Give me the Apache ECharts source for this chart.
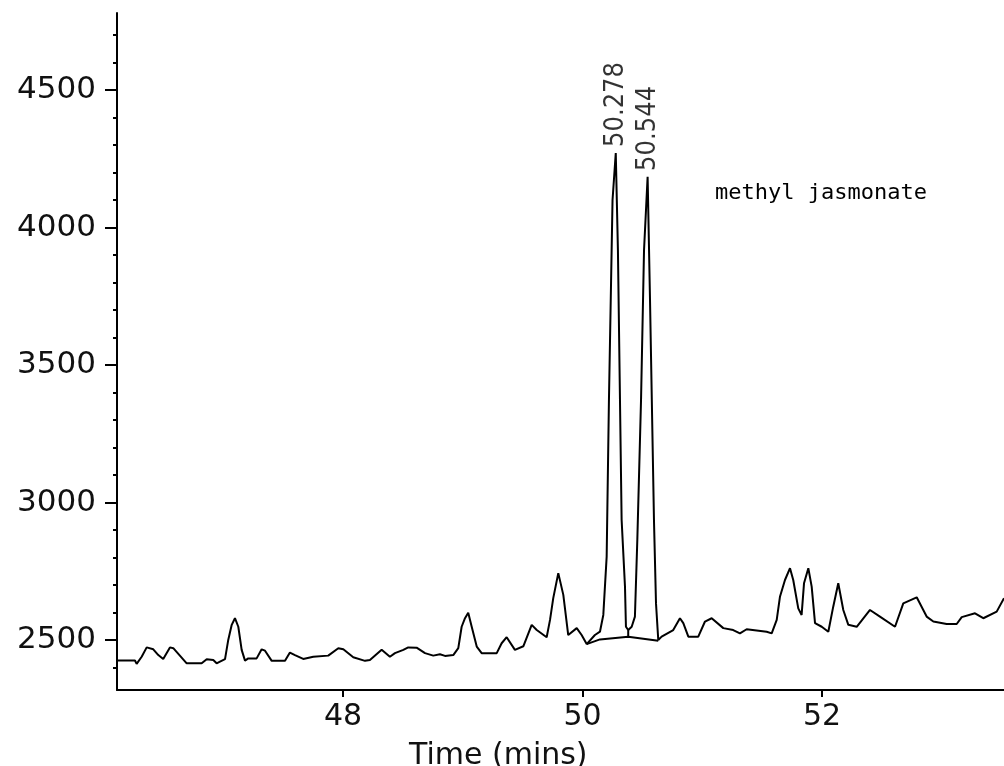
<!DOCTYPE html>
<html lang="en">

<head>
    <meta charset="utf-8">
    <title>Chromatogram - methyl jasmonate</title>

    <style>
        * {
            margin: 0;
            padding: 0;
        }

        #chart-container {
            width: 1004px;
            height: 766px;
            overflow: hidden;
            background: #fff;
        }
    </style>

</head>

<body>
    <div id="chart-container"></div>
    <script src="https://cdn.jsdelivr.net/npm/echarts@6/dist/echarts.min.js"></script>
    <script>
        // retention time (mins) and detector signal
        var timeMin = [46.113, 46.263, 46.277, 46.319, 46.361, 46.416, 46.458, 46.499, 46.555, 46.583,
            46.695, 46.820, 46.862, 46.917, 46.945, 46.973, 47.015, 47.042, 47.071, 47.098,
            47.126, 47.154, 47.182, 47.209, 47.279, 47.321, 47.349, 47.405, 47.516, 47.557,
            47.599, 47.668, 47.752, 47.877, 47.961, 48.003, 48.086, 48.184, 48.225, 48.323,
            48.392, 48.434, 48.504, 48.545, 48.615, 48.685, 48.754, 48.810, 48.852, 48.921,
            48.963, 48.991, 49.019, 49.046, 49.075, 49.117, 49.158, 49.284, 49.325, 49.367,
            49.436, 49.506, 49.576, 49.618, 49.701, 49.729, 49.756, 49.798, 49.840, 49.881,
            49.952, 49.993, 50.035, 50.104, 50.146, 50.174, 50.202, 50.221, 50.251, 50.278,
            50.296, 50.327, 50.355, 50.363, 50.382, 50.411, 50.438, 50.458, 50.489, 50.514,
            50.544, 50.564, 50.597, 50.614, 50.633, 50.661, 50.758, 50.814, 50.842, 50.884,
            50.967, 51.023, 51.079, 51.176, 51.259, 51.315, 51.371, 51.538, 51.580, 51.622,
            51.649, 51.691, 51.733, 51.760, 51.802, 51.830, 51.850, 51.886, 51.914, 51.942,
            51.998, 52.053, 52.094, 52.136, 52.178, 52.220, 52.290, 52.401, 52.484, 52.610,
            52.679, 52.791, 52.874, 52.930, 53.041, 53.125, 53.167, 53.278, 53.347, 53.459,
            53.520];
        var signal = [2425, 2425, 2413, 2439, 2473, 2466, 2445, 2431, 2473, 2470,
            2415, 2415, 2430, 2427, 2415, 2421, 2430, 2500, 2555, 2579,
            2548, 2464, 2425, 2433, 2433, 2466, 2461, 2424, 2424, 2454,
            2445, 2431, 2439, 2443, 2470, 2466, 2437, 2424, 2427, 2464,
            2439, 2452, 2464, 2473, 2472, 2452, 2443, 2448, 2442, 2445,
            2470, 2548, 2579, 2599, 2548, 2476, 2452, 2452, 2488, 2510,
            2464, 2477, 2555, 2536, 2510, 2573, 2652, 2743, 2664, 2518,
            2543, 2518, 2485, 2518, 2530, 2591, 2803, 3373, 4100, 4271,
            3918, 2936, 2694, 2548, 2536, 2548, 2585, 2864, 3373, 3918,
            4184, 3736, 2936, 2633, 2500, 2512, 2536, 2579, 2561, 2512,
            2512, 2567, 2579, 2543, 2536, 2524, 2539, 2530, 2524, 2573,
            2657, 2718, 2761, 2718, 2615, 2591, 2706, 2761, 2694, 2561,
            2548, 2530, 2621, 2706, 2609, 2555, 2548, 2609, 2585, 2548,
            2633, 2655, 2585, 2567, 2558, 2558, 2583, 2597, 2579, 2603,
            2652];

        // integrated peaks
        var peakTime = [50.278, 50.544];
        var peakSignal = [4271, 4184];

        // integration baseline under the two peaks, and the drop line between them
        var baseTime = [50.035, 50.146, 50.382, 50.633];
        var baseSignal = [2485, 2502, 2512, 2497];
        var dropTime = [50.382, 50.382];
        var dropSignal = [2512, 2536];

        // axis ticks
        var xTicks = [48, 50, 52];
        var yMajorTicks = [2500, 3000, 3500, 4000, 4500];
        var yMinorTicks = [2400, 2600, 2700, 2800, 2900, 3100, 3200, 3300, 3400,
            3600, 3700, 3800, 3900, 4100, 4200, 4300, 4400, 4600, 4700];

        var compoundName = 'methyl jasmonate';

        function zip(xs, ys) {
            return xs.map(function (x, i) { return [x, ys[i]]; });
        }

        var dom = document.getElementById('chart-container');
        var myChart = echarts.init(dom, null, {
            renderer: 'canvas',
            useDirtyRect: false
        });
        var option;

        var labelFont = 'DejaVu Sans';

        option = {
            animation: false,
            backgroundColor: '#fff',
            title: [
                {
                    text: 'Time (mins)',
                    left: 404,
                    top: 736,
                    textStyle: {
                        fontFamily: labelFont,
                        fontSize: 30,
                        fontWeight: 'normal',
                        color: '#111'
                    }
                },
                {
                    text: compoundName,
                    left: 710,
                    top: 177,
                    textStyle: {
                        fontFamily: 'DejaVu Sans Mono',
                        fontSize: 22,
                        fontWeight: 'normal',
                        color: '#000'
                    }
                }
            ],
            grid: {
                left: 117,
                right: 0,
                top: 13,
                bottom: 76,
                containLabel: false
            },
            xAxis: {
                type: 'value',
                min: 46.113,
                max: 53.52,
                axisLine: { lineStyle: { color: '#000', width: 2 } },
                axisTick: {
                    customValues: xTicks,
                    length: 7,
                    lineStyle: { color: '#000', width: 2 }
                },
                axisLabel: {
                    customValues: xTicks,
                    margin: 12,
                    fontFamily: labelFont,
                    fontSize: 30,
                    color: '#111',
                    formatter: function (v) { return String(v); }
                },
                splitLine: { show: false }
            },
            yAxis: [
                {
                    type: 'value',
                    position: 'left',
                    min: 2318,
                    max: 4780,
                    axisLine: { show: true, lineStyle: { color: '#000', width: 2 } },
                    axisTick: {
                        show: true,
                        customValues: yMajorTicks,
                        length: 12,
                        lineStyle: { color: '#000', width: 2 }
                    },
                    axisLabel: {
                        customValues: yMajorTicks,
                        margin: 21,
                        fontFamily: labelFont,
                        fontSize: 31,
                        color: '#111',
                        formatter: function (v) { return String(v); }
                    },
                    splitLine: { show: false }
                },
                {
                    type: 'value',
                    position: 'left',
                    offset: 0,
                    min: 2318,
                    max: 4780,
                    axisLine: { show: false },
                    axisTick: {
                        show: true,
                        customValues: yMinorTicks,
                        length: 4,
                        lineStyle: { color: '#000', width: 2 }
                    },
                    axisLabel: { show: false },
                    splitLine: { show: false }
                }
            ],
            series: [
                {
                    name: 'signal',
                    type: 'line',
                    symbol: 'none',
                    data: zip(timeMin, signal),
                    lineStyle: { color: '#000', width: 2 }
                },
                {
                    name: 'baseline',
                    type: 'line',
                    symbol: 'none',
                    data: zip(baseTime, baseSignal),
                    lineStyle: { color: '#000', width: 2 }
                },
                {
                    name: 'drop',
                    type: 'line',
                    symbol: 'none',
                    data: zip(dropTime, dropSignal),
                    lineStyle: { color: '#000', width: 2 }
                },
                {
                    name: 'peaks',
                    type: 'scatter',
                    symbolSize: 0,
                    data: zip(peakTime, peakSignal),
                    label: {
                        show: true,
                        position: 'top',
                        distance: 6,
                        rotate: 90,
                        align: 'left',
                        verticalAlign: 'middle',
                        fontFamily: 'DejaVu Sans Condensed',
                        fontSize: 27,
                        color: '#000',
                        textBorderWidth: 0,
                        formatter: function (p) {
                            return p.value[0].toFixed(3);
                        }
                    }
                }
            ]
        };

        if (option && typeof option === 'object') {
            myChart.setOption(option);
        }

        window.addEventListener('resize', myChart.resize);
    </script>
</body>

</html>
